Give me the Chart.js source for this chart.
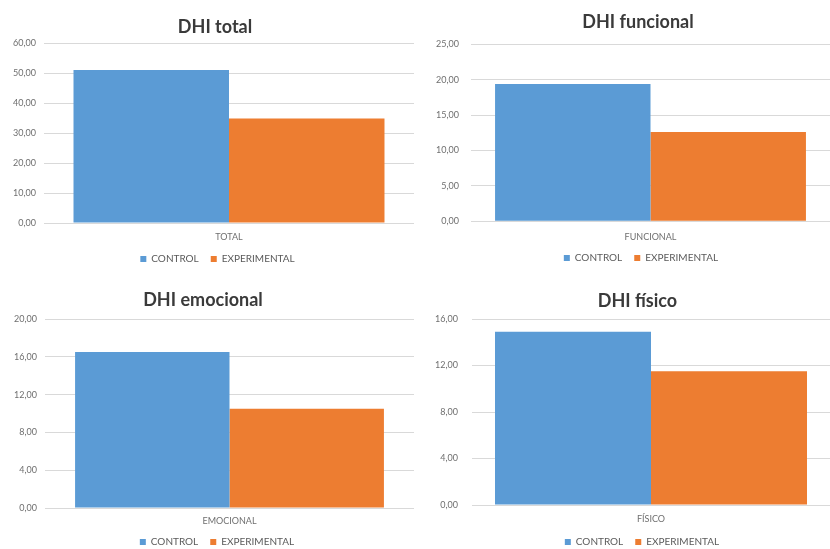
<!DOCTYPE html>
<html>
<head>
<meta charset="utf-8">
<title>DHI</title>
<script src="https://cdn.jsdelivr.net/npm/chart.js@4/dist/chart.umd.min.js"></script>
<style>
  html, body { margin: 0; padding: 0; background: #ffffff; overflow: hidden; }
  #board { position: relative; width: 830px; height: 549px; }
  #board canvas { position: absolute; }
</style>
</head>
<body>
<div id="board">
  <canvas id="chartTotal" width="415" height="275" style="left:0;top:0"></canvas>
  <canvas id="chartFuncional" width="415" height="275" style="left:415px;top:0"></canvas>
  <canvas id="chartEmocional" width="415" height="274" style="left:0;top:275px"></canvas>
  <canvas id="chartFisico" width="415" height="274" style="left:415px;top:275px"></canvas>
</div>
<script>
// Series names shared by all four panels
const seriesNames = ['CONTROL', 'EXPERIMENTAL'];

// DHI total
const totalTitle = 'DHI total';
const totalCategories = ['TOTAL'];
const totalControl = [51.0];
const totalExperimental = [34.8];
const totalTicks = [0, 10, 20, 30, 40, 50, 60];

// DHI funcional
const funcionalTitle = 'DHI funcional';
const funcionalCategories = ['FUNCIONAL'];
const funcionalControl = [19.4];
const funcionalExperimental = [12.6];
const funcionalTicks = [0, 5, 10, 15, 20, 25];

// DHI emocional
const emocionalTitle = 'DHI emocional';
const emocionalCategories = ['EMOCIONAL'];
const emocionalControl = [16.5];
const emocionalExperimental = [10.5];
const emocionalTicks = [0, 4, 8, 12, 16, 20];

// DHI físico
const fisicoTitle = 'DHI físico';
const fisicoCategories = ['FÍSICO'];
const fisicoControl = [14.9];
const fisicoExperimental = [11.5];
const fisicoTicks = [0, 4, 8, 12, 16];

const BLUE = '#5B9BD5';
const ORANGE = '#ED7D31';
const GRID = '#D9D9D9';
const TICK_TEXT = '#6F6F6F';
const TITLE_TEXT = '#3A3A3A';
const FONT = 'Lato, "Open Sans", sans-serif';

const LEGEND_FONT = 10;
const LEGEND_PAD = 12;

// Panel geometry: axis sizes, paddings and horizontal offsets of title / legend
const totalLayout     = { padR: 1, yW: 44, yPad: 8,  titleTop: 16.2, titleBottom: 5.2,  xH: 19,   xPad: 8.3, legendTop: 242, catPct: 0.8405, titleShift: 8,   legendShift: 10.5 };
const funcionalLayout = { padR: 0, yW: 56, yPad: 12, titleTop: 11.2, titleBottom: 11.5, xH: 19.7, xPad: 10,  legendTop: 241, catPct: 0.866,  titleShift: 15.5, legendShift: 18.5 };
const emocionalLayout = { padR: 1, yW: 45, yPad: 8,  titleTop: 14.2, titleBottom: 8.2,  xH: 17,   xPad: 7.3, legendTop: 250, catPct: 0.837,  titleShift: -4,  legendShift: 10 };
const fisicoLayout    = { padR: 0, yW: 57, yPad: 14, titleTop: 15.2, titleBottom: 7.2,  xH: 20,   xPad: 8.3, legendTop: 250, catPct: 0.8715, titleShift: 15,  legendShift: 19.5 };

const fmt = v => Number(v).toFixed(2).replace('.', ',');

// Moves the title and legend blocks sideways after Chart.js has laid them out
const shiftBlocks = {
  id: 'shiftBlocks',
  afterLayout(chart, args, opts) {
    const t = chart.titleBlock;
    if (t && opts.title) { t.left += opts.title; t.right += opts.title; }
    const l = chart.legend;
    if (l && opts.legend) { l.left += opts.legend; l.right += opts.legend; }
  }
};

function buildPanel(canvasId, title, categories, control, experimental, ticks, geo) {
  const canvas = document.getElementById(canvasId);
  const H = canvas.height;
  const naturalLegend = LEGEND_FONT + LEGEND_PAD + 10;
  const available = H - geo.legendTop;
  let padB = 0, legendMax;
  if (naturalLegend >= available) {
    legendMax = available;
  } else {
    padB = available - naturalLegend;
  }
  const step = ticks[1] - ticks[0];

  return new Chart(canvas, {
    type: 'bar',
    plugins: [shiftBlocks],
    data: {
      labels: categories,
      datasets: [
        { label: seriesNames[0], data: control, backgroundColor: BLUE, borderWidth: 0 },
        { label: seriesNames[1], data: experimental, backgroundColor: ORANGE, borderWidth: 0 }
      ]
    },
    options: {
      responsive: false,
      animation: false,
      events: [],
      layout: { padding: { left: 0, right: geo.padR, top: 0, bottom: padB } },
      datasets: { bar: { barPercentage: 1, categoryPercentage: geo.catPct } },
      scales: {
        x: {
          grid: { display: false, drawTicks: false },
          border: { display: false },
          ticks: { color: TICK_TEXT, font: { family: FONT, size: 9 }, padding: geo.xPad },
          afterFit: s => { s.height = geo.xH; }
        },
        y: {
          min: ticks[0],
          max: ticks[ticks.length - 1],
          grid: { color: GRID, lineWidth: 1, drawTicks: false },
          border: { display: false },
          ticks: {
            stepSize: step,
            color: TICK_TEXT,
            font: { family: FONT, size: 9 },
            padding: geo.yPad,
            callback: v => fmt(v)
          },
          afterFit: s => { s.width = geo.yW; }
        }
      },
      plugins: {
        shiftBlocks: { title: geo.titleShift, legend: geo.legendShift },
        title: {
          display: true,
          text: title,
          color: TITLE_TEXT,
          font: { family: FONT, size: 18, weight: 'bold', lineHeight: 1.2 },
          padding: { top: geo.titleTop, bottom: geo.titleBottom }
        },
        legend: {
          position: 'bottom',
          maxHeight: legendMax,
          labels: {
            color: '#5A5A5A',
            font: { family: FONT, size: LEGEND_FONT },
            boxWidth: 6,
            boxHeight: 6,
            padding: LEGEND_PAD
          }
        },
        tooltip: { enabled: false }
      }
    }
  });
}

function drawAll() {
  buildPanel('chartTotal', totalTitle, totalCategories, totalControl, totalExperimental, totalTicks, totalLayout);
  buildPanel('chartFuncional', funcionalTitle, funcionalCategories, funcionalControl, funcionalExperimental, funcionalTicks, funcionalLayout);
  buildPanel('chartEmocional', emocionalTitle, emocionalCategories, emocionalControl, emocionalExperimental, emocionalTicks, emocionalLayout);
  buildPanel('chartFisico', fisicoTitle, fisicoCategories, fisicoControl, fisicoExperimental, fisicoTicks, fisicoLayout);
}

const fontLoads = document.fonts ? Promise.all([
  document.fonts.load('bold 18px Lato'),
  document.fonts.load('10px Lato'),
  document.fonts.load('9px Lato')
]) : Promise.resolve();
fontLoads.then(drawAll, drawAll);
</script>
</body>
</html>
